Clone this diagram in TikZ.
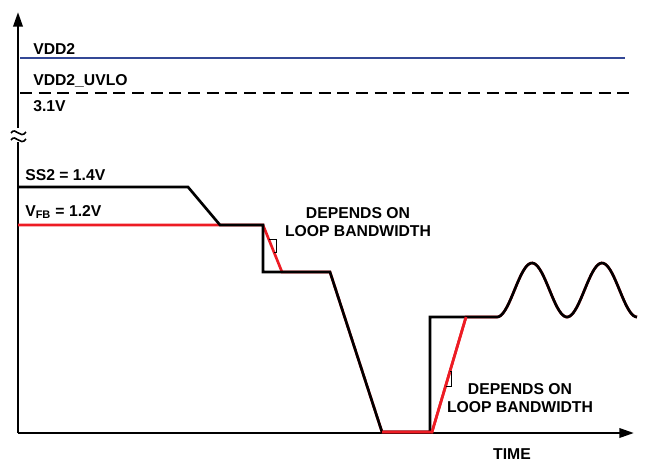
\documentclass[tikz,border=0pt]{standalone}
\usepackage{xcolor}
\usepackage{fontspec}
\setmainfont{Liberation Sans}
\usepackage{tikz}
\usetikzlibrary{arrows.meta}

\definecolor{vddblue}{RGB}{52,72,150}
\definecolor{fbred}{RGB}{237,28,36}

\begin{document}
\begin{tikzpicture}[x=0.75pt, y=-0.75pt,
  axis/.style={draw=black, line width=1.9pt, -{Triangle[length=11pt, width=7pt]}},
  ss/.style={draw=black, line width=2pt, line join=miter},
  fb/.style={draw=fbred, line width=2pt, line join=miter},
  slopemark/.style={draw=black, line width=0.6pt},
  lbl/.style={font=\fontsize{11.8}{13.2}\selectfont\bfseries, inner sep=0pt},
  note/.style={lbl, align=center}]
\useasboundingbox (0,0) rectangle (653,461);

% axes
\coordinate (origin) at (18,433);
\coordinate (ytop) at (18,12);
\coordinate (xend) at (634,433);
\coordinate (brklo) at (18,142);
\coordinate (brkhi) at (18,128);
\draw[draw=black, line width=1.9pt] (origin) -- (brklo);
\draw[axis] (brkhi) -- (ytop);
\draw[axis] (origin) -- (xend);
% axis break
\draw[line width=1.2pt] (11,133) .. controls (16,126) and (20,140) .. (26,132);
\draw[line width=1.2pt] (11,140) .. controls (16,133) and (20,147) .. (26,139);

% supply levels
\coordinate (vddl) at (20,58);
\coordinate (vddr) at (625,58);
\draw[vddblue, line width=1.8pt] (vddl) -- (vddr);
\coordinate (uvlol) at (20,93);
\coordinate (uvlor) at (635,93);
\draw[black, line width=1.8pt, dash pattern=on 9pt off 5pt] (uvlol) -- (uvlor);

\node[lbl, anchor=west] (vdd) at (33,49) {VDD2};
\node[lbl, anchor=west] (uvlo) at (33,81) {VDD2\_UVLO};
\node[lbl, anchor=west] (uvlov) at (33,106) {3.1V};
\node[lbl, anchor=west] (ss2) at (25,175) {SS2 = 1.4V};
\node[lbl, anchor=west] (vfb) at (25,212) {V\textsubscript{FB} = 1.2V};

% waveform corners
\coordinate (s0) at (18,187);
\coordinate (s1) at (188,187);
\coordinate (s2) at (220,225);
\coordinate (f0) at (18,225);
\coordinate (a) at (263,225);
\coordinate (b) at (263,272);
\coordinate (fb1) at (282,272);
\coordinate (c) at (330,272);
\coordinate (d) at (382,432);
\coordinate (e) at (430,432);
\coordinate (e2) at (432,432);
\coordinate (g) at (430,317);
\coordinate (fg) at (466,317);
\coordinate (h) at (497,317);

% feedback voltage
\draw[fb] (f0) -- (a) -- (fb1) -- (c) -- (d) -- (e2) -- (fg) -- (h)
  -- plot[domain=497:637, samples=80, smooth] (\x, {290+27*cos((\x-497)/70*360)});
% soft start
\draw[ss] (s0) -- (s1) -- (s2) -- (a) -- (b) -- (c) -- (d) -- (e) -- (g) -- (h)
  -- plot[domain=497:637, samples=80, smooth] (\x, {290+27*cos((\x-497)/70*360)});
\draw[fb] (d) -- (e2) -- (fg);

% slope marks
\draw[slopemark] (268.5,239) -- (276,239) -- (276,252) -- (274,252);
\draw[slopemark] (450,371) -- (451,371) -- (451,386) -- (446,386);

\node[note] (bw1) at (358,222) {DEPENDS ON\\LOOP BANDWIDTH};
\node[note] (bw2) at (520,398) {DEPENDS ON\\LOOP BANDWIDTH};
\node[lbl] (time) at (512,454) {TIME};
\end{tikzpicture}
\end{document}
